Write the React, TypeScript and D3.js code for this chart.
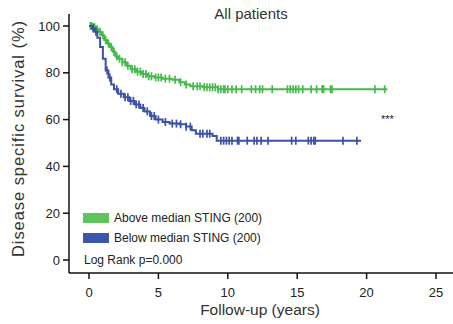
import React from 'react';
import * as d3 from 'd3';

// Kaplan-Meier steps: [years, survival %]
const aboveSteps: [number, number][] = [
  [0, 100], [0.3, 99.5], [0.5, 98.5], [0.7, 97.5], [0.9, 96], [1.1, 94], [1.3, 92.5],
  [1.5, 91], [1.7, 89], [1.9, 87], [2.1, 86], [2.4, 84.5], [2.7, 83], [3.0, 81.5],
  [3.4, 80.5], [3.8, 79.5], [4.2, 78.5], [4.7, 78], [5.3, 77.5], [6.0, 77], [6.5, 76],
  [6.9, 75], [7.3, 74.2], [8.2, 73.8], [9.3, 73],
];
const aboveEnd = 21.5;
const aboveCensor = [
  0.1, 0.2, 0.3, 0.4, 0.5, 0.6, 0.8, 1.0, 1.2, 1.4, 1.6, 1.8, 2.0, 2.2, 2.4, 2.6, 2.8,
  3.1, 3.3, 3.5, 3.7, 3.9, 4.1, 4.3, 4.5, 4.8, 5.0, 5.2, 5.5, 5.8, 6.2, 6.6, 7.0, 7.5,
  7.8, 8.0, 8.3, 8.5, 8.7, 8.9, 9.1, 9.3, 9.5, 9.7, 9.8, 10.0, 10.3, 10.6, 11.0, 11.7,
  12.0, 12.3, 12.5, 13.2, 14.3, 14.5, 14.7, 14.9, 15.1, 15.4, 16.0, 16.4, 16.8, 16.9,
  17.4, 17.5, 20.6, 21.3,
];

const belowSteps: [number, number][] = [
  [0, 100], [0.2, 99], [0.4, 97.5], [0.6, 95], [0.8, 91], [1.0, 86], [1.2, 81],
  [1.4, 78], [1.6, 75], [1.8, 73], [2.1, 71], [2.5, 69.5], [2.9, 68], [3.3, 66.5],
  [3.7, 65], [4.0, 63.5], [4.4, 61.5], [4.8, 60], [5.3, 59], [5.8, 58.3], [6.5, 58],
  [7.0, 57], [7.4, 55.5], [7.7, 54], [8.9, 53], [9.2, 51],
];
const belowEnd = 19.6;
const belowCensor = [
  0.3, 0.5, 1.3, 1.5, 2.0, 2.3, 2.6, 2.8, 3.0, 3.2, 3.4, 3.6, 3.9, 4.2, 4.5, 4.7, 5.0,
  5.5, 6.0, 6.3, 6.6, 7.0, 7.3, 8.0, 8.2, 8.5, 8.7, 9.5, 9.7, 9.9, 10.1, 10.3, 10.7,
  10.8, 11.4, 11.9, 12.1, 12.4, 12.9, 14.6, 14.9, 15.8, 16.0, 16.2, 16.3, 18.3, 19.3,
];

const xTicks = [0, 5, 10, 15, 20, 25];
const yTicks = [0, 20, 40, 60, 80, 100];
const legendLabels = ['Above median STING (200)', 'Below median STING (200)'];

const GREEN = '#46b94b';
const BLUE = '#3b51a6';
const FONT = 'Liberation Sans, Arial, sans-serif';

const x = d3.scaleLinear().domain([0, 25]).range([89, 436]);
const y = d3.scaleLinear().domain([0, 100]).range([260, 26]);

const stepLine = d3.line<[number, number]>()
  .x(d => x(d[0]))
  .y(d => y(d[1]))
  .curve(d3.curveStepAfter);

function valueAt(steps: [number, number][], t: number) {
  let v = steps[0][1];
  for (const s of steps) if (s[0] <= t) v = s[1];
  return v;
}

function Curve({ steps, end, censor, color }: { steps: [number, number][]; end: number; censor: number[]; color: string }) {
  const pts: [number, number][] = [...steps, [end, steps[steps.length - 1][1]]];
  return (
    <g>
      <path d={stepLine(pts) || ''} fill="none" stroke={color} strokeWidth={2} />
      {censor.map((t, i) => (
        <line key={i} x1={x(t)} x2={x(t)} y1={y(valueAt(steps, t)) - 4} y2={y(valueAt(steps, t)) + 4}
          stroke={color} strokeWidth={1.7} />
      ))}
    </g>
  );
}

export default function App() {
  return (
    <svg width={453} height={324} style={{ position: 'absolute', left: 0, top: 0 }} fontFamily={FONT}>
      <rect width={453} height={324} fill="#fff" />
      {/* axes */}
      <line x1={69} x2={69} y1={14} y2={273} stroke="#111" strokeWidth={1.5} />
      <line x1={69} x2={453} y1={273} y2={273} stroke="#111" strokeWidth={1.5} />
      {yTicks.map(v => (
        <g key={v}>
          <line x1={63} x2={69} y1={y(v)} y2={y(v)} stroke="#111" strokeWidth={1.5} />
          <text x={60} y={y(v)} dy="0.35em" textAnchor="end" fontSize={13} fill="#222">{v}</text>
        </g>
      ))}
      {xTicks.map(v => (
        <g key={v}>
          <line x1={x(v)} x2={x(v)} y1={273} y2={279} stroke="#111" strokeWidth={1.5} />
          <text x={x(v)} y={297} textAnchor="middle" fontSize={13} fill="#222">{v}</text>
        </g>
      ))}
      <text x={260} y={315} textAnchor="middle" fontSize={15.5} fill="#333">Follow-up (years)</text>
      <text transform="translate(24,139) rotate(-90)" textAnchor="middle" fontSize={16.5} fill="#333"
        textLength={236} lengthAdjust="spacing">
        Disease specific survival (%)
      </text>
      <text x={251} y={19} textAnchor="middle" fontSize={15} fill="#333">All patients</text>

      <Curve steps={aboveSteps} end={aboveEnd} censor={aboveCensor} color={GREEN} />
      <Curve steps={belowSteps} end={belowEnd} censor={belowCensor} color={BLUE} />

      <text x={381} y={123} fontSize={11} fill="#222">***</text>

      {/* legend */}
      <rect x={83} y={213} width={26} height={10} fill="#5ec45e" />
      <rect x={83} y={233} width={26} height={10} fill="#3b55a8" />
      <text x={114} y={218} dy="0.35em" fontSize={12} fill="#222">{legendLabels[0]}</text>
      <text x={114} y={238} dy="0.35em" fontSize={12} fill="#222">{legendLabels[1]}</text>
      <text x={84} y={260} dy="0.35em" fontSize={12} fill="#222">Log Rank p=0.000</text>
    </svg>
  );
}
